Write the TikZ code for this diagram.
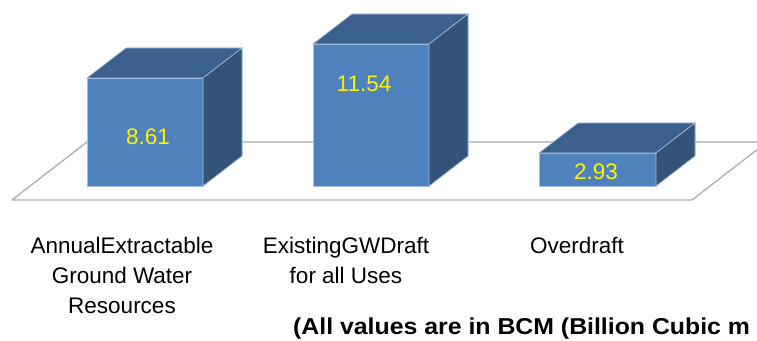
\documentclass[tikz,border=0pt]{standalone}
\usepackage{fontspec}
\setmainfont{Liberation Sans}
\begin{document}
\begin{tikzpicture}[x=1pt,y=-1pt,
  floorline/.style={draw=black!32,line width=1.3pt,line join=round},
  barfront/.style={fill=barFront,draw=barEdge,line width=0.6pt},
  bartop/.style={fill=barTop,draw=barEdge,line width=0.6pt},
  barside/.style={fill=barSide,draw=barEdge,line width=0.6pt},
  valtext/.style={text=yellow,font=\fontsize{22.5}{27}\selectfont,inner sep=0pt},
  cattext/.style={text=black,align=center,anchor=north,inner sep=0pt,
                  font=\fontsize{22.5}{30}\selectfont},
  notetext/.style={text=black,anchor=base west,inner sep=0pt,
                   font=\bfseries\fontsize{23}{27}\selectfont}]
\definecolor{barFront}{HTML}{4F81BD}
\definecolor{barTop}{HTML}{3C608C}
\definecolor{barSide}{HTML}{335379}
\definecolor{barEdge}{HTML}{A7BEDD}
\useasboundingbox (0,0) rectangle (757,340);

% floor of the 3-D chart
\coordinate (fl) at (12,200);
\coordinate (fr) at (692,200);
\coordinate (br) at (767,142);
\coordinate (bl) at (87,142);
\draw[floorline] (fl) -- (fr) -- (br) -- (bl) -- cycle;

% a box bar: #1 left, #2 right, #3 top of the front face
\newcommand{\boxbar}[3]{%
  \fill[bartop] (#1,#3) -- (#1+39,#3-30) -- (#2+39,#3-30) -- (#2,#3) -- cycle;
  \fill[barside] (#2,#3) -- (#2+39,#3-30) -- (#2+39,156) -- (#2,186) -- cycle;
  \filldraw[barfront] (#1,#3) rectangle (#2,186);
  \draw[bartop] (#1,#3) -- (#1+39,#3-30) -- (#2+39,#3-30) -- (#2,#3) -- cycle;
  \draw[barside] (#2,#3) -- (#2+39,#3-30) -- (#2+39,156) -- (#2,186) -- cycle;
}
\boxbar{87}{203}{78}
\boxbar{313}{429}{44}
\boxbar{539}{656}{153}

% values
\node[valtext] (v1) at (148,137) {8.61};
\node[valtext] (v2) at (364,84) {11.54};
\node[valtext] (v3) at (596,172) {2.93};

% category labels
\node[cattext] (c1) at (122,236.5) {AnnualExtractable\\Ground Water\\Resources};
\node[cattext] (c2) at (346,236.5) {ExistingGWDraft\\for all Uses};
\node[cattext] (c3) at (577,236.5) {Overdraft};

% unit note
\node[notetext] (note) at (293,334) {\scalebox{1.08}[1]{(All values are in BCM (Billion Cubic m}};
\end{tikzpicture}
\end{document}
